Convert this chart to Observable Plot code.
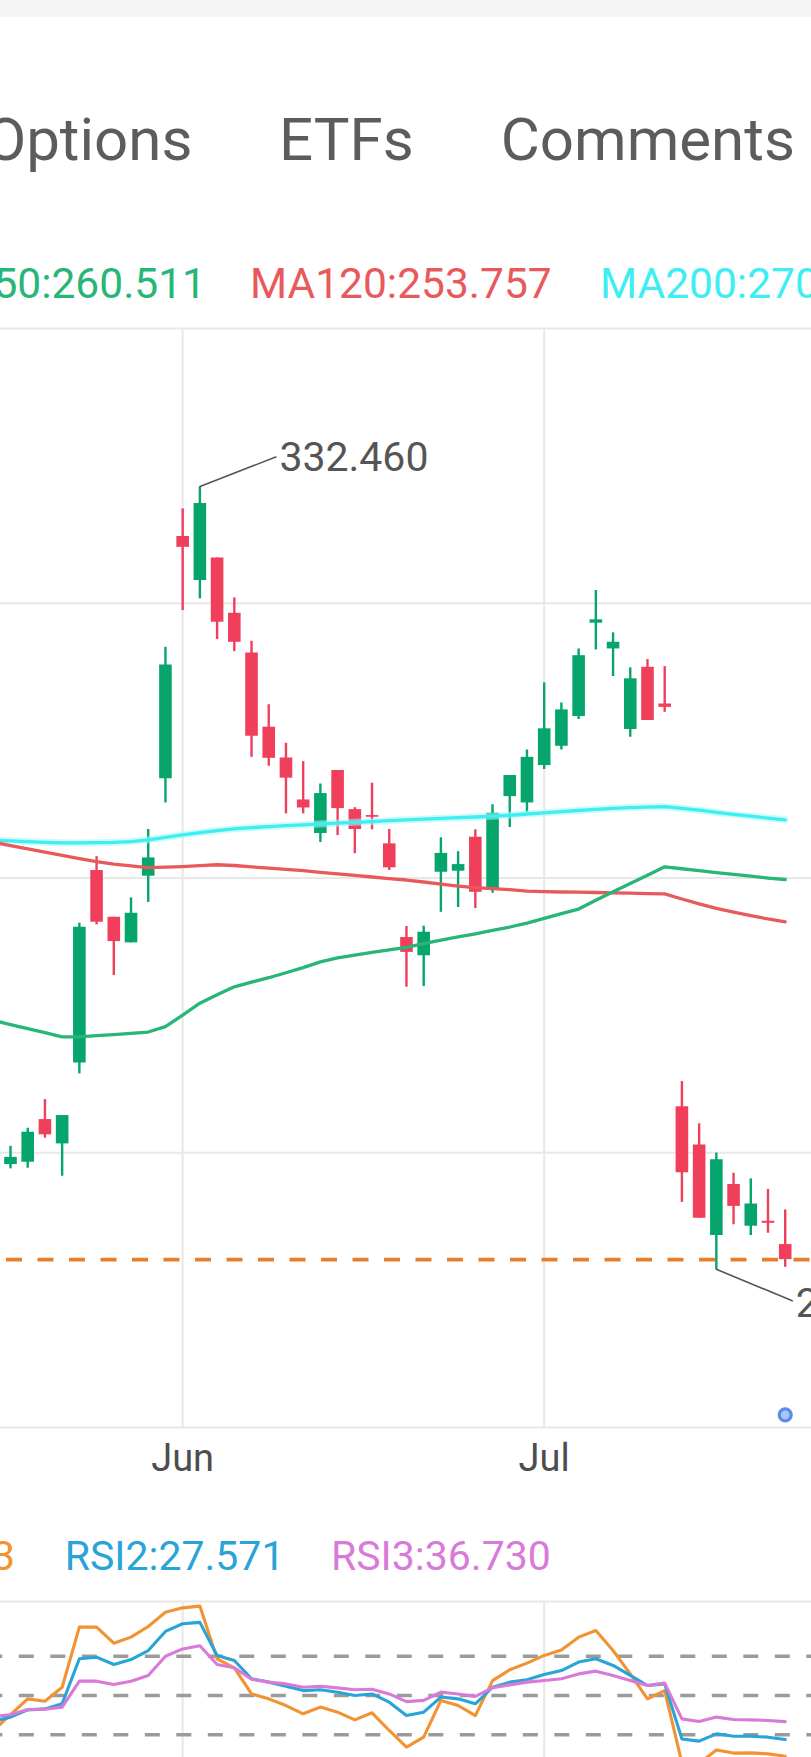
<!DOCTYPE html>
<html>
<head>
<meta charset="utf-8">
<script src="https://cdn.jsdelivr.net/npm/d3@7"></script>
<script src="https://cdn.jsdelivr.net/npm/@observablehq/plot@0.6"></script>
<style>
  html, body { margin: 0; padding: 0; background: #fff; width: 811px; height: 1757px; overflow: hidden; }
  #page { position: relative; width: 811px; height: 1757px; overflow: hidden; font-family: Roboto, "Noto Sans", sans-serif; }
  .topbar { position: absolute; left: 0; top: 0; width: 811px; height: 17px; background: #f5f5f5; }
  #price { position: absolute; left: 0; top: 320px; }
  #rsi { position: absolute; left: 0; top: 1591px; }
  #labels { position: absolute; left: 0; top: 0; pointer-events: none; }
</style>
</head>
<body>
<div id="page">
  <div class="topbar"></div>
  <div id="price"></div>
  <div id="rsi"></div>
  <svg id="labels" width="811" height="1757"></svg>
</div>
<script>
// ---------- data ----------
const tabs = ["Options", "ETFs", "Comments"];
const monthTicks = [10, 31];            // candle index of first trading day of month
const monthLabels = ["Jun", "Jul"];

// daily candles (index 0..45)
const open  = [218.20,218.51,224.39,221.02,232.44,261.97,254.47,250.45,261.05,277.34,322.44,313.74,318.17,307.41,299.90,286.39,280.96,273.72,268.07,278.78,272.08,271.08,266.35,251.28,248.45,261.69,261.86,267.45,258.73,274.29,273.21,279.64,283.01,288.29,305.52,300.67,285.98,297.26,290.55,226.20,220.88,208.78,215.51,209.99,210.64,207.61];
const high  = [220.69,223.19,227.19,224.95,253.53,264.24,254.47,257.55,268.74,300.97,328.02,332.46,318.17,310.36,302.11,290.42,283.54,280.33,276.45,278.78,272.41,276.59,268.74,253.01,253.06,267.35,265.05,268.69,272.91,277.91,282.36,294.40,290.73,300.67,311.79,303.70,297.15,298.68,297.39,229.76,223.80,219.77,217.03,216.27,214.84,212.13];
const low   = [217.62,217.70,221.80,216.62,230.86,253.27,245.41,250.45,256.83,273.21,307.92,310.17,302.43,300.16,281.07,279.52,271.36,271.36,266.57,267.73,264.73,268.69,261.97,243.63,243.74,255.25,256.02,255.86,258.29,269.07,271.63,278.95,282.36,287.76,300.48,295.56,284.61,287.58,289.05,213.13,211.04,204.41,210.18,208.78,209.08,204.70];
const close = [219.18,222.63,222.27,224.95,252.90,253.68,250.65,255.10,264.03,297.70,320.28,329.15,305.70,301.92,284.79,280.90,277.45,272.36,274.81,272.25,268.74,270.79,262.41,248.97,252.11,264.77,262.94,258.45,271.46,277.91,281.07,286.10,289.48,299.41,306.16,301.92,295.14,287.58,289.94,217.08,211.04,218.87,212.60,212.91,210.38,205.67];

// indicators start one candle earlier (index -1..45)
const indicatorStart = -1;
const ma50  = [238.68,238.05,237.46,236.87,236.23,236.22,236.40,236.57,236.75,236.94,237.73,239.45,241.23,242.51,243.70,244.40,245.08,245.84,246.62,247.50,248.12,248.56,248.97,249.37,249.74,250.34,250.87,251.38,251.86,252.40,252.93,253.53,254.28,255.03,255.77,257.16,258.52,259.86,261.21,262.58,262.26,261.95,261.64,261.35,261.05,260.75,260.511];
const ma120 = [266.65,266.05,265.51,264.98,264.45,263.93,263.43,263.00,262.73,262.45,262.52,262.62,262.78,262.91,262.79,262.57,262.36,262.15,261.94,261.68,261.42,261.17,260.92,260.67,260.43,260.11,259.77,259.44,259.20,259.04,258.87,258.65,258.55,258.50,258.47,258.42,258.36,258.31,258.24,258.19,257.37,256.59,255.87,255.28,254.72,254.20,253.757];
const ma200 = [266.93,266.85,266.73,266.61,266.53,266.51,266.55,266.60,266.73,267.02,267.43,267.85,268.20,268.54,268.85,269.05,269.22,269.39,269.52,269.67,269.81,269.94,270.07,270.22,270.36,270.47,270.61,270.72,270.84,270.98,271.13,271.34,271.54,271.74,271.93,272.13,272.31,272.43,272.51,272.58,272.28,271.99,271.61,271.28,270.98,270.66,270.36];
const rsi1 = [32.2,40.3,48.3,47.1,54.2,84.8,84.8,76.6,79.7,85.1,92.4,94.6,95.5,68.7,64.1,50.8,48.3,44.9,40.7,44.1,41.5,37.6,41.2,32.2,23.7,28.8,47.5,44.9,39.8,57.6,63.1,66.5,70.4,73.2,79.7,83.1,72.9,61.0,48.3,52.5,15.7,15.4,22.3,20.7,20.8,20.3,19.123];
const rsi2 = [36.9,39.0,42.7,43.2,45.8,68.7,69.5,65.8,68.3,72.9,82.6,86.5,87.2,70.4,67.8,58.5,56.8,54.7,52.5,52.9,51.7,50.0,50.8,46.6,39.8,41.5,49.2,48.3,45.8,54.2,56.8,58.0,60.7,62.7,67.0,68.7,65.3,60.2,55.1,55.9,27.9,26.8,30.5,29.3,29.3,28.8,27.571];
const rsi3 = [39.3,40.2,42.9,43.0,44.1,57.3,57.3,55.6,57.3,60.2,70.0,73.7,75.3,65.8,64.1,58.3,56.8,55.9,54.2,54.7,53.9,52.9,53.2,50.8,46.9,47.5,51.7,50.8,49.5,53.9,55.4,56.8,57.6,58.5,61.0,62.4,60.2,57.6,55.1,56.3,38.1,36.8,39.0,37.8,37.6,37.3,36.730];

// visible window & scale settings
const xView = [-0.581, 46.527];                    // visible candle-index window
const priceView = [185.29, 366.96];                // visible price range (log)
const priceGrid = [185.29, 219.80, 260.75, 309.32, 366.96];
const rsiView = [18.45, 97.84];
const rsiLevels = [70, 50, 30];

// ---------- colors ----------
const UP = "#06a56c", DOWN = "#f03f5b";
const C_MA50 = "#27b677", C_MA120 = "#e8595c", C_MA200 = "#3eeef2";
const C_R1 = "#f19332", C_R2 = "#28a4d6", C_R3 = "#d97ad9";
const GRID = "#e8e8e8";

// ---------- tables ----------
const candles = open.map((o, i) => ({i, open: o, high: high[i], low: low[i], close: close[i], up: close[i] >= o}));
const ind = ma50.map((v, k) => ({
  i: k + indicatorStart, ma50: v, ma120: ma120[k], ma200: ma200[k],
  rsi1: rsi1[k], rsi2: rsi2[k], rsi3: rsi3[k]
}));

const fmt = d3.format(".3f");
const hiIdx = d3.maxIndex(candles, d => d.high);
const loIdx = d3.minIndex(candles, d => d.low);

function extremeLabel(idx, value, offX, offY) {
  return (index, scales) => {
    const px = scales.x(idx), py = scales.y(value);
    const g = d3.create("svg:g");
    g.append("line")
      .attr("x1", px).attr("y1", py)
      .attr("x2", px + offX).attr("y2", py + offY)
      .attr("stroke", "#555").attr("stroke-width", 1.6);
    g.append("text")
      .attr("x", px + offX + 3).attr("y", py + offY + (offY > 0 ? 2 : 0))
      .attr("dy", "0.35em")
      .attr("text-anchor", "start")
      .attr("font-family", "Roboto, sans-serif")
      .attr("font-size", 41).attr("fill", "#555")
      .text(fmt(value));
    return g.node();
  };
}

// ---------- price pane ----------
const price = Plot.plot({
  width: 811, height: 1180,
  marginTop: 8, marginBottom: 73, marginLeft: 0, marginRight: 0,
  style: {fontFamily: "Roboto, sans-serif", background: "transparent"},
  x: {type: "linear", domain: xView, axis: null},
  y: {type: "log", domain: priceView, axis: null},
  marks: [
    Plot.ruleY(priceGrid, {stroke: GRID, strokeWidth: 2}),
    Plot.ruleX(monthTicks, {x: d => d, y1: priceView[0], y2: priceView[1], stroke: GRID, strokeWidth: 2}),
    Plot.text(monthTicks, {x: d => d, text: (d, k) => monthLabels[k], frameAnchor: "bottom", lineAnchor: "middle", dy: 31, fontSize: 38, fill: "#4d4d4d"}),
    Plot.ruleY([close[close.length - 1]], {stroke: "#e57f2c", strokeWidth: 3.6, strokeDasharray: "16,15.5", strokeDashoffset: 25.5}),
    Plot.ruleX(candles, {x: "i", y1: "low", y2: "high", stroke: d => d.up ? UP : DOWN, strokeWidth: 2.4}),
    Plot.ruleX(candles, {x: "i", y1: "open", y2: "close", stroke: d => d.up ? UP : DOWN, strokeWidth: 12.6}),
    Plot.line(ind, {x: "i", y: "ma200", stroke: "#a6f8f8", strokeWidth: 7, strokeOpacity: 0.55}),
    Plot.line(ind, {x: "i", y: "ma200", stroke: C_MA200, strokeWidth: 3.3}),
    Plot.line(ind, {x: "i", y: "ma120", stroke: C_MA120, strokeWidth: 3.3}),
    Plot.line(ind, {x: "i", y: "ma50", stroke: C_MA50, strokeWidth: 3.3}),
    extremeLabel(hiIdx, candles[hiIdx].high, 77, -30),
    extremeLabel(loIdx, candles[loIdx].low, 77, 32),
    Plot.dot([candles.length - 1], {x: d => d, frameAnchor: "bottom", dy: -12.7, r: 6, fill: "#aac6f8", stroke: "#5b8def", strokeWidth: 3.2})
  ]
});
document.getElementById("price").append(price);

// ---------- RSI pane ----------
const rsi = Plot.plot({
  width: 811, height: 166,
  marginTop: 10, marginBottom: 0, marginLeft: 0, marginRight: 0,
  style: {fontFamily: "Roboto, sans-serif", background: "transparent"},
  x: {type: "linear", domain: xView, axis: null},
  y: {type: "linear", domain: rsiView, axis: null},
  marks: [
    Plot.ruleY([rsiView[1]], {stroke: GRID, strokeWidth: 2}),
    Plot.ruleX(monthTicks, {x: d => d, y1: rsiView[0], y2: rsiView[1], stroke: GRID, strokeWidth: 2}),
    Plot.ruleY(rsiLevels, {stroke: "#9b9b9b", strokeWidth: 3.5, strokeDasharray: "15,16.5", strokeDashoffset: 12.7}),
    Plot.line(ind, {x: "i", y: "rsi1", stroke: C_R1, strokeWidth: 3.1}),
    Plot.line(ind, {x: "i", y: "rsi2", stroke: C_R2, strokeWidth: 3.1}),
    Plot.line(ind, {x: "i", y: "rsi3", stroke: C_R3, strokeWidth: 3.1})
  ]
});
document.getElementById("rsi").append(rsi);

// ---------- header texts & legends ----------
const svg = d3.select("#labels").attr("font-family", "Roboto, sans-serif");
const tabPos = [{x: 192.4, anchor: "end"}, {x: 279, anchor: "start"}, {x: 500.8, anchor: "start"}];
tabs.forEach((t, k) => {
  svg.append("text").attr("x", tabPos[k].x).attr("y", 160).attr("text-anchor", tabPos[k].anchor)
    .attr("font-size", 60).attr("fill", "#5c5c5c").text(t);
});
const last = ind.length - 1;
const maLegend = [
  {label: "MA50:" + fmt(ma50[last]), color: C_MA50, x: 206, anchor: "end"},
  {label: "MA120:" + fmt(ma120[last]), color: C_MA120, x: 250, anchor: "start"},
  {label: "MA200:" + fmt(ma200[last]), color: C_MA200, x: 600, anchor: "start"}
];
maLegend.forEach(d => {
  svg.append("text").attr("x", d.x).attr("y", 298).attr("text-anchor", d.anchor)
    .attr("font-size", 42.5).attr("fill", d.color).text(d.label);
});
const rsiLegend = [
  {label: "RSI1:" + fmt(rsi1[last]), color: C_R1, x: 15, anchor: "end"},
  {label: "RSI2:" + fmt(rsi2[last]), color: C_R2, x: 64.7, anchor: "start"},
  {label: "RSI3:" + fmt(rsi3[last]), color: C_R3, x: 331, anchor: "start"}
];
rsiLegend.forEach(d => {
  svg.append("text").attr("x", d.x).attr("y", 1570).attr("text-anchor", d.anchor)
    .attr("font-size", 41).attr("fill", d.color).text(d.label);
});
</script>
</body>
</html>
